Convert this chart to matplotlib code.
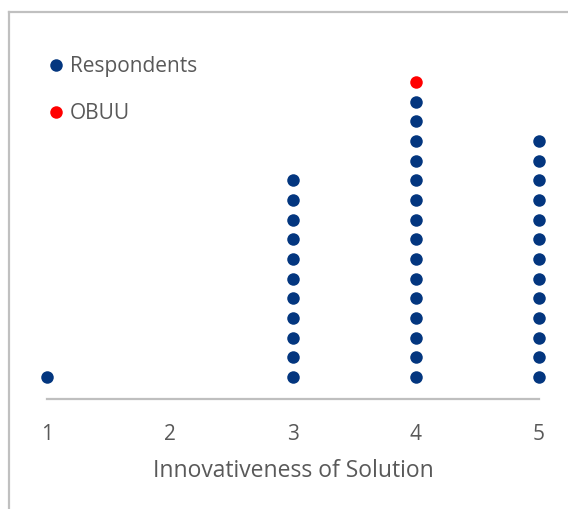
import matplotlib.pyplot as plt
from matplotlib.lines import Line2D

# data
scores = [1, 2, 3, 4, 5]
respondent_counts = [1, 0, 11, 15, 13]
obuu_score = 4
x_label = 'Innovativeness of Solution'

BLUE = '#03367F'
RED = '#FF0000'
GREY_TXT = '#595959'

plt.rcParams['font.family'] = ['Open Sans', 'DejaVu Sans']

W, H = 568, 509
fig = plt.figure(figsize=(W / 100, H / 100), dpi=100)
# axes placed in pixel terms: x 47..539, y 60..399 (from top)
ax = fig.add_axes([47 / W, 1 - 399 / H, (539 - 47) / W, (399 - 60) / H])

xs, ys = [], []
for s, n in zip(scores, respondent_counts):
    for k in range(1, n + 1):
        xs.append(s)
        ys.append(k)
ax.plot(xs, ys, 'o', color=BLUE, ms=9, mew=0, clip_on=False, label='Respondents')
ax.plot([obuu_score], [respondent_counts[scores.index(obuu_score)] + 1], 'o',
        color=RED, ms=9, mew=0, clip_on=False, label='OBUU')

ax.set_xlim(1, 5)
ax.set_ylim(1 - 22 / 19.67, 1 + 317 / 19.67)
ax.set_xticks(scores)
ax.tick_params(axis='x', length=0, pad=18, labelsize=15, labelcolor=GREY_TXT)
ax.set_yticks([])
for side in ['top', 'right', 'left']:
    ax.spines[side].set_visible(False)
ax.spines['bottom'].set_color('#BFBFBF')
ax.spines['bottom'].set_linewidth(1.6)
ax.set_xlabel(x_label, fontsize=16.5, color=GREY_TXT, labelpad=10)

leg = ax.legend(loc='upper left', bbox_to_anchor=(50 / W, 1 - 56 / H), bbox_transform=fig.transFigure,
                frameon=False, fontsize=15, handlelength=0.6, handletextpad=0.35,
                labelspacing=1.27, borderpad=0, borderaxespad=0)
for t in leg.get_texts():
    t.set_color(GREY_TXT)

# chart frame, only top and left edges visible in the crop
fig.add_artist(Line2D([9 / W, 1], [1 - 12 / H, 1 - 12 / H], color='#C0C0C0', lw=1.6))
fig.add_artist(Line2D([9 / W, 9 / W], [0, 1 - 12 / H], color='#C0C0C0', lw=1.6))

fig.savefig('out.png', dpi=100)
